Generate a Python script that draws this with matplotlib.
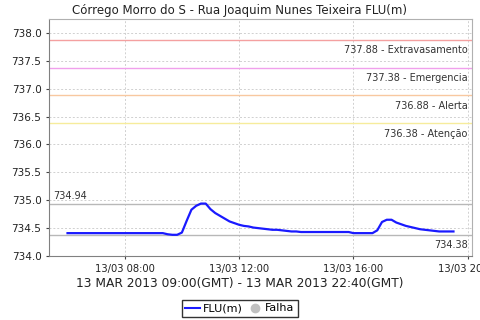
import numpy as np
import matplotlib
matplotlib.use("Agg")
import matplotlib.pyplot as plt
import matplotlib.dates as mdates
from matplotlib.lines import Line2D

# data: river level every 10 min, local time 06:00 -> 19:40
start = np.datetime64("2013-03-13T06:00")
level = [734.41] * 21 + [
    734.39, 734.38, 734.38, 734.42, 734.63, 734.83, 734.90, 734.94, 734.94, 734.84,
    734.77, 734.72, 734.67, 734.62, 734.59, 734.56, 734.54, 734.53, 734.51, 734.50,
    734.49, 734.48, 734.47, 734.47, 734.46, 734.45, 734.44, 734.44,
] + [734.43] * 11 + [734.41] * 5 + [
    734.46, 734.61, 734.65, 734.65, 734.60, 734.57, 734.54, 734.52, 734.50, 734.48,
    734.47, 734.46, 734.45, 734.44, 734.44, 734.44, 734.44,
]
times = start + np.arange(len(level)) * np.timedelta64(10, "m")

thresholds = [737.88, 737.38, 736.88, 736.38]
threshold_names = ["Extravasamento", "Emergencia", "Alerta", "Atenção"]
threshold_colors = ["#f4a0a0", "#f0a0ec", "#f8c8a0", "#f6ec9c"]
lvl_max = 734.94
lvl_min = 734.38

title = "Córrego Morro do S - Rua Joaquim Nunes Teixeira FLU(m)"
subtitle = "13 MAR 2013 09:00(GMT) - 13 MAR 2013 22:40(GMT)"

fig = plt.figure(figsize=(4.8, 3.2), dpi=100)
ax = fig.add_axes([49 / 480, 0.2, 423 / 480, 237 / 320])

x = mdates.date2num(times.astype("datetime64[s]").astype(object))
pad = (x[-1] - x[0]) * 0.048
ax.set_xlim(x[0] - pad, x[-1] + pad)
ax.set_ylim(734.0, 738.25)

ax.grid(True, color="#d0d0d0", linestyle=(0, (2, 2)), linewidth=0.7)
ax.set_axisbelow(True)

for val, name, col in zip(thresholds, threshold_names, threshold_colors):
    ax.axhline(val, color=col, lw=1.0)
    ax.annotate(f"{val:.2f} - {name}", xy=(0.99, val), xycoords=("axes fraction", "data"),
                xytext=(0, -4), textcoords="offset points", ha="right", va="top",
                fontsize=7, color="#333333")

ax.axhline(lvl_max, color="#b8b8b8", lw=1.0)
ax.axhline(lvl_min, color="#b8b8b8", lw=1.0)
ax.annotate(f"{lvl_max:.2f}", xy=(0.01, lvl_max), xycoords=("axes fraction", "data"),
            xytext=(0, 2), textcoords="offset points", ha="left", va="bottom",
            fontsize=7, color="#333333")
ax.annotate(f"{lvl_min:.2f}", xy=(0.99, lvl_min), xycoords=("axes fraction", "data"),
            xytext=(0, -4), textcoords="offset points", ha="right", va="top",
            fontsize=7, color="#333333")

ax.plot(x, level, color="#1a1aff", lw=1.6)

ax.xaxis.set_major_locator(mdates.HourLocator(byhour=[8, 12, 16, 20]))
ax.xaxis.set_major_formatter(mdates.DateFormatter("%d/%m %H:%M"))
ax.set_yticks([734.0, 734.5, 735.0, 735.5, 736.0, 736.5, 737.0, 737.5, 738.0])
ax.yaxis.set_major_formatter(plt.FormatStrFormatter("%.1f"))
ax.tick_params(axis="x", labelsize=7.2)
ax.tick_params(axis="y", labelsize=7.5)
ax.tick_params(colors="#444444", length=2, labelcolor="#222222")

for s in ["top", "right"]:
    ax.spines[s].set_color("#b0b0b0")
for s in ["left", "bottom"]:
    ax.spines[s].set_color("#808080")

fig.text(0.5, 0.967, title, ha="center", va="center", fontsize=8.5, color="#222222")
fig.text(0.5, 0.115, subtitle, ha="center", va="center", fontsize=8.8, color="#222222")

handles = [Line2D([], [], color="#1a1aff", lw=1.5),
           Line2D([], [], color="#c0c0c0", marker="o", lw=0, markersize=6)]
leg = fig.legend(handles, ["FLU(m)", "Falha"], loc="lower center", bbox_to_anchor=(0.5, 0.01),
                 ncol=2, fontsize=8, frameon=True, fancybox=False, handlelength=1.3,
                 handletextpad=0.3, columnspacing=0.4, borderpad=0.3, borderaxespad=0)
leg.get_frame().set_edgecolor("black")
leg.get_frame().set_linewidth(1.0)

fig.savefig("out.png", dpi=100)
